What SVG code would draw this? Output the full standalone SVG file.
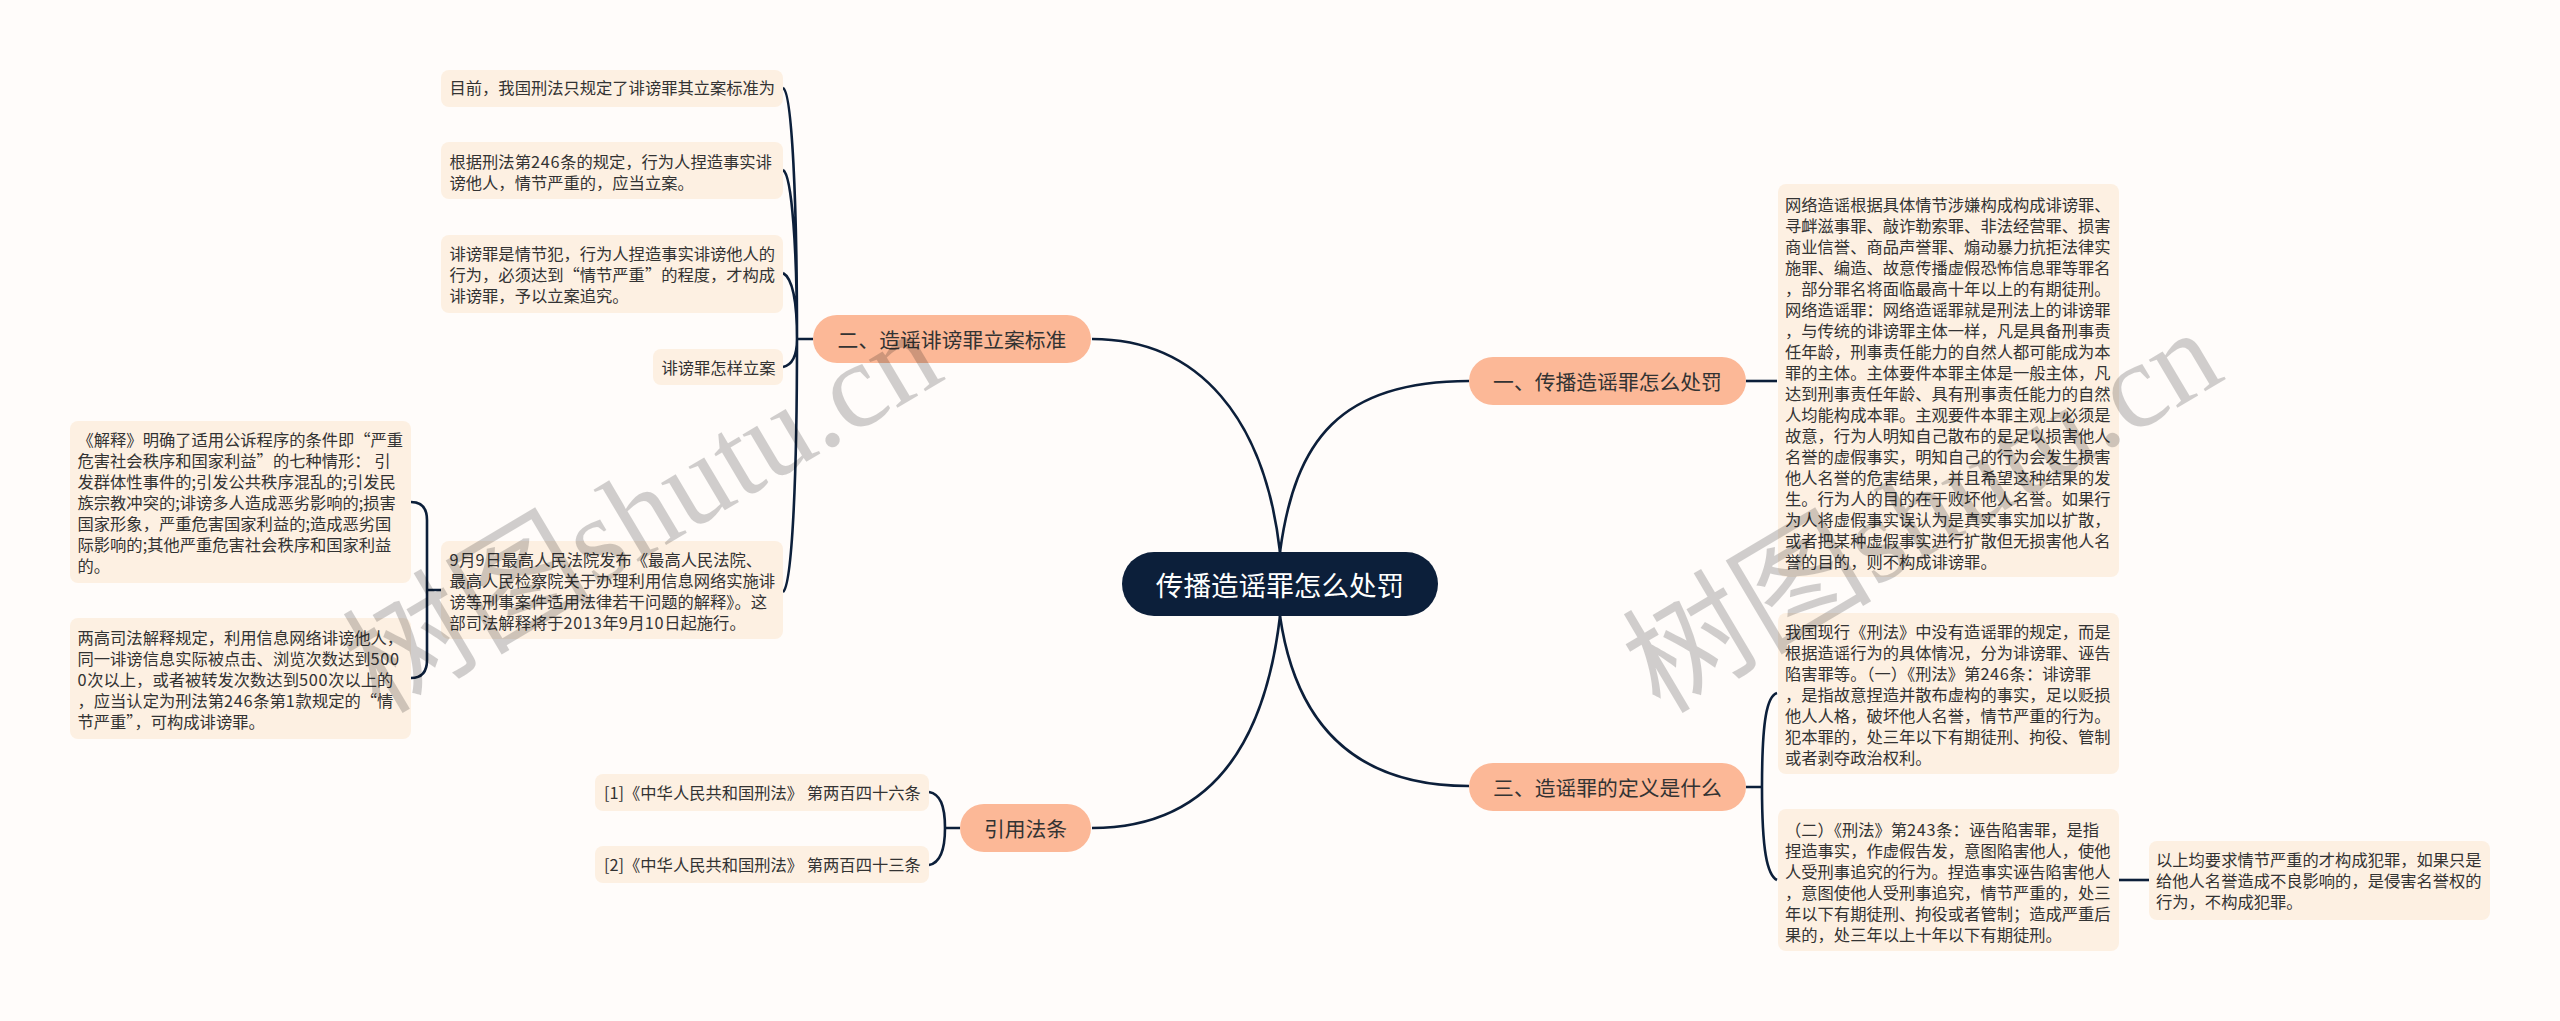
<svg xmlns="http://www.w3.org/2000/svg" width="2560" height="1021" viewBox="0 0 2560 1021">
<style>
text{font-family:"Noto Sans CJK SC","Noto Sans",sans-serif;fill:#333}
.l{fill:#fdf0e2}
.b{fill:#fcb897}
.t{font-size:16.3px}
.d{letter-spacing:.7px}
.m{font-size:20.8px;text-anchor:middle;dominant-baseline:central}
.c{fill:none;stroke:#0c1f3a;stroke-width:2.6}
.w{font-family:"Liberation Serif","Noto Sans CJK SC",serif;font-size:122px;fill:#000;opacity:.18}
.z{font-family:"Noto Sans CJK SC",sans-serif;font-size:125px}
</style>
<rect width="2560" height="1021" fill="#fffcfa"/>
<g id="connectors">
<path class="c" d="M1280 552C1265 420 1200 339 1092 339"/>
<path class="c" d="M1280 552C1295 440 1340 381 1469 381"/>
<path class="c" d="M1280 616C1265 745 1210 828 1092 828"/>
<path class="c" d="M1280 616C1295 720 1350 786 1469 786"/>
<path class="c" d="M813 339H797M783 88C792 92 797 200 797 339C797 480 792 585 783 592M783 170C792 175 797 250 797 339M783 273C792 278 797 300 797 339M783 367C792 365 797 355 797 339"/>
<path class="c" d="M441 590H427M411 502C422 502 427 508 427 520V660C427 672 422 678 411 678"/>
<path class="c" d="M960 828H945M929 792C940 794 945 805 945 828C945 851 940 863 929 865"/>
<path class="c" d="M1746 381H1777"/>
<path class="c" d="M1746 787H1762M1777 693C1767 696 1762 720 1762 787C1762 850 1767 875 1777 880"/>
<path class="c" d="M2119 880H2149"/>
</g>
<g id="center"><rect x="1122" y="552" width="316" height="64" rx="32" fill="#0c1f3a"/><text x="1280" y="584" style="font-size:27.6px;fill:#fff;text-anchor:middle;dominant-baseline:central">传播造谣罪怎么处罚</text></g>
<g id="b1"><rect class="b" x="1469" y="357" width="277" height="48" rx="24"/><text class="m" x="1607.500" y="381">一、传播造谣罪怎么处罚</text></g>
<g id="b2"><rect class="b" x="813" y="315" width="278" height="48" rx="24"/><text class="m" x="952" y="339">二、造谣诽谤罪立案标准</text></g>
<g id="b3"><rect class="b" x="1469" y="763" width="277" height="48" rx="24"/><text class="m" x="1607.500" y="787">三、造谣罪的定义是什么</text></g>
<g id="b4"><rect class="b" x="960" y="804" width="131" height="48" rx="24"/><text class="m" x="1025.500" y="828">引用法条</text></g>
<g id="n1"><rect class="l" x="441" y="70" width="342" height="37" rx="8"/><text class="t" x="449.500" y="94">目前&#xFF0C;我国刑法只规定了诽谤罪其立案标准为</text></g>
<g id="n2"><rect class="l" x="441" y="142" width="342" height="57" rx="8"/><text class="t" x="449.500" y="168"><tspan x="449.500">根据刑法第<tspan class="d">246</tspan>条的规定&#xFF0C;行为人捏造事实诽</tspan><tspan x="449.500" dy="21">谤他人&#xFF0C;情节严重的&#xFF0C;应当立案。</tspan></text></g>
<g id="n3"><rect class="l" x="441" y="235" width="342" height="78" rx="8"/><text class="t" x="449.500" y="260"><tspan x="449.500">诽谤罪是情节犯&#xFF0C;行为人捏造事实诽谤他人的</tspan><tspan x="449.500" dy="21">行为&#xFF0C;必须达到“情节严重”的程度&#xFF0C;才构成</tspan><tspan x="449.500" dy="21">诽谤罪&#xFF0C;予以立案追究。</tspan></text></g>
<g id="n4"><rect class="l" x="653" y="349" width="130" height="36" rx="8"/><text class="t" x="661.500" y="374">诽谤罪怎样立案</text></g>
<g id="n5"><rect class="l" x="441" y="541" width="342" height="98" rx="8"/><text class="t" x="449.500" y="566"><tspan x="449.500"><tspan class="d">9</tspan>月<tspan class="d">9</tspan>日最高人民法院发布《最高人民法院、</tspan><tspan x="449.500" dy="21">最高人民检察院关于办理利用信息网络实施诽</tspan><tspan x="449.500" dy="21">谤等刑事案件适用法律若干问题的解释》。这</tspan><tspan x="449.500" dy="21">部司法解释将于<tspan class="d">2013</tspan>年<tspan class="d">9</tspan>月<tspan class="d">10</tspan>日起施行。</tspan></text></g>
<g id="n6"><rect class="l" x="70" y="421" width="341" height="162" rx="8"/><text class="t" x="77.500" y="446"><tspan x="77.500">《解释》明确了适用公诉程序的条件即“严重</tspan><tspan x="77.500" dy="21">危害社会秩序和国家利益”的七种情形&#xFF1A; 引</tspan><tspan x="77.500" dy="21">发群体性事件的;引发公共秩序混乱的;引发民</tspan><tspan x="77.500" dy="21">族宗教冲突的;诽谤多人造成恶劣影响的;损害</tspan><tspan x="77.500" dy="21">国家形象&#xFF0C;严重危害国家利益的;造成恶劣国</tspan><tspan x="77.500" dy="21">际影响的;其他严重危害社会秩序和国家利益</tspan><tspan x="77.500" dy="21">的。</tspan></text></g>
<g id="n7"><rect class="l" x="70" y="618" width="341" height="121" rx="8"/><text class="t" x="77.500" y="644"><tspan x="77.500">两高司法解释规定&#xFF0C;利用信息网络诽谤他人&#xFF0C;</tspan><tspan x="77.500" dy="21">同一诽谤信息实际被点击、浏览次数达到<tspan class="d">500</tspan></tspan><tspan x="77.500" dy="21"><tspan class="d">0</tspan>次以上&#xFF0C;或者被转发次数达到<tspan class="d">500</tspan>次以上的</tspan><tspan x="77.500" dy="21">&#xFF0C;应当认定为刑法第<tspan class="d">246</tspan>条第<tspan class="d">1</tspan>款规定的“情</tspan><tspan x="77.500" dy="21">节严重”&#xFF0C;可构成诽谤罪。</tspan></text></g>
<g id="n8"><rect class="l" x="595" y="774" width="334" height="37" rx="8"/><text class="t" x="604" y="799">[1]《中华人民共和国刑法》 第两百四十六条</text></g>
<g id="n9"><rect class="l" x="595" y="846" width="334" height="37" rx="8"/><text class="t" x="604" y="871">[2]《中华人民共和国刑法》 第两百四十三条</text></g>
<g id="n10"><rect class="l" x="1778" y="184" width="341" height="393" rx="8"/><text class="t" x="1785" y="211"><tspan x="1785">网络造谣根据具体情节涉嫌构成构成诽谤罪、</tspan><tspan x="1785" dy="21">寻衅滋事罪、敲诈勒索罪、非法经营罪、损害</tspan><tspan x="1785" dy="21">商业信誉、商品声誉罪、煽动暴力抗拒法律实</tspan><tspan x="1785" dy="21">施罪、编造、故意传播虚假恐怖信息罪等罪名</tspan><tspan x="1785" dy="21">&#xFF0C;部分罪名将面临最高十年以上的有期徒刑。</tspan><tspan x="1785" dy="21">网络造谣罪&#xFF1A;网络造谣罪就是刑法上的诽谤罪</tspan><tspan x="1785" dy="21">&#xFF0C;与传统的诽谤罪主体一样&#xFF0C;凡是具备刑事责</tspan><tspan x="1785" dy="21">任年龄&#xFF0C;刑事责任能力的自然人都可能成为本</tspan><tspan x="1785" dy="21">罪的主体。主体要件本罪主体是一般主体&#xFF0C;凡</tspan><tspan x="1785" dy="21">达到刑事责任年龄、具有刑事责任能力的自然</tspan><tspan x="1785" dy="21">人均能构成本罪。主观要件本罪主观上必须是</tspan><tspan x="1785" dy="21">故意&#xFF0C;行为人明知自己散布的是足以损害他人</tspan><tspan x="1785" dy="21">名誉的虚假事实&#xFF0C;明知自己的行为会发生损害</tspan><tspan x="1785" dy="21">他人名誉的危害结果&#xFF0C;并且希望这种结果的发</tspan><tspan x="1785" dy="21">生。行为人的目的在于败坏他人名誉。如果行</tspan><tspan x="1785" dy="21">为人将虚假事实误认为是真实事实加以扩散&#xFF0C;</tspan><tspan x="1785" dy="21">或者把某种虚假事实进行扩散但无损害他人名</tspan><tspan x="1785" dy="21">誉的目的&#xFF0C;则不构成诽谤罪。</tspan></text></g>
<g id="n11"><rect class="l" x="1778" y="613" width="341" height="161" rx="8"/><text class="t" x="1785" y="638"><tspan x="1785">我国现行《刑法》中没有造谣罪的规定&#xFF0C;而是</tspan><tspan x="1785" dy="21">根据造谣行为的具体情况&#xFF0C;分为诽谤罪、诬告</tspan><tspan x="1785" dy="21">陷害罪等。&#xFF08;一&#xFF09;《刑法》第<tspan class="d">246</tspan>条&#xFF1A;诽谤罪</tspan><tspan x="1785" dy="21">&#xFF0C;是指故意捏造并散布虚构的事实&#xFF0C;足以贬损</tspan><tspan x="1785" dy="21">他人人格&#xFF0C;破坏他人名誉&#xFF0C;情节严重的行为。</tspan><tspan x="1785" dy="21">犯本罪的&#xFF0C;处三年以下有期徒刑、拘役、管制</tspan><tspan x="1785" dy="21">或者剥夺政治权利。</tspan></text></g>
<g id="n12"><rect class="l" x="1778" y="809" width="341" height="142" rx="8"/><text class="t" x="1785" y="836"><tspan x="1785">&#xFF08;二&#xFF09;《刑法》第<tspan class="d">243</tspan>条&#xFF1A;诬告陷害罪&#xFF0C;是指</tspan><tspan x="1785" dy="21">捏造事实&#xFF0C;作虚假告发&#xFF0C;意图陷害他人&#xFF0C;使他</tspan><tspan x="1785" dy="21">人受刑事追究的行为。捏造事实诬告陷害他人</tspan><tspan x="1785" dy="21">&#xFF0C;意图使他人受刑事追究&#xFF0C;情节严重的&#xFF0C;处三</tspan><tspan x="1785" dy="21">年以下有期徒刑、拘役或者管制&#xFF1B;造成严重后</tspan><tspan x="1785" dy="21">果的&#xFF0C;处三年以上十年以下有期徒刑。</tspan></text></g>
<g id="n13"><rect class="l" x="2149" y="841" width="341" height="79" rx="8"/><text class="t" x="2156" y="866"><tspan x="2156">以上均要求情节严重的才构成犯罪&#xFF0C;如果只是</tspan><tspan x="2156" dy="21">给他人名誉造成不良影响的&#xFF0C;是侵害名誉权的</tspan><tspan x="2156" dy="21">行为&#xFF0C;不构成犯罪。</tspan></text></g>
<text class="w" transform="translate(380 715) rotate(-30.700)"><tspan class="z">树图</tspan><tspan>shutu.cn</tspan></text>
<text class="w" transform="translate(1660 715) rotate(-30.700)"><tspan class="z">树图</tspan><tspan>shutu.cn</tspan></text>
</svg>
